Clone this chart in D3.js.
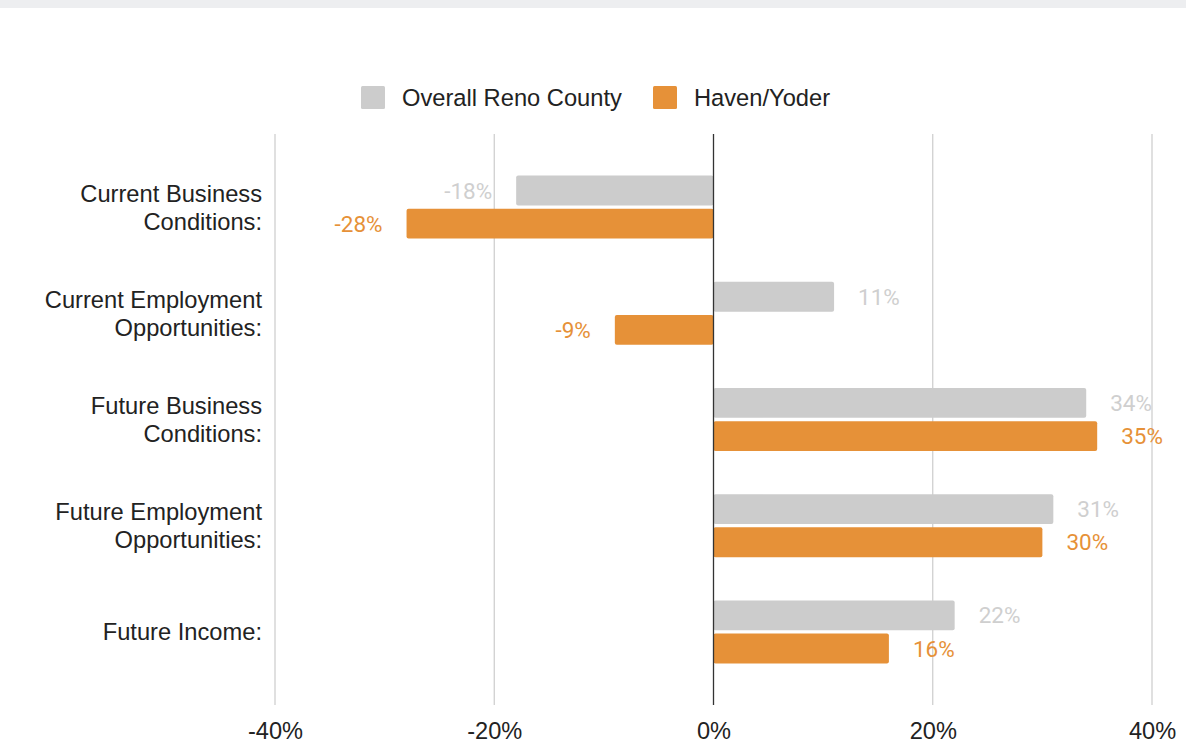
<!DOCTYPE html>
<html>
<head>
<meta charset="utf-8">
<script src="https://cdn.jsdelivr.net/npm/d3@7/dist/d3.min.js"></script>
<style>
  html, body { margin: 0; padding: 0; background: #ffffff; }
  svg { display: block; }
</style>
</head>
<body>
<script>
// Survey index by category: Reno County overall vs. Haven/Yoder
const categories = [
  ["Current Business", "Conditions:"],
  ["Current Employment", "Opportunities:"],
  ["Future Business", "Conditions:"],
  ["Future Employment", "Opportunities:"],
  ["Future Income:"]
];
const seriesNames = ["Overall Reno County", "Haven/Yoder"];
const renoValues = [-18, 11, 34, 31, 22];
const havenValues = [-28, -9, 35, 30, 16];
const tickValues = [-40, -20, 0, 20, 40];
const colors = ["#cccccc", "#e69138"];
const labelColors = ["#cfcfcf", "#e69138"];

const W = 1186, H = 752;
const textFont = "Arial, 'Liberation Sans', sans-serif";
const svg = d3.select("body").append("svg").attr("width", W).attr("height", H);

// top strip
svg.append("rect").attr("x", 0).attr("y", 0).attr("width", W).attr("height", 8).attr("fill", "#edeef0");

const x = d3.scaleLinear().domain([-40, 40]).range([275, 1152]);
const y = d3.scaleBand().domain(d3.range(categories.length)).range([154, 685]);
const sub = d3.scaleBand().domain([0, 1]).range([-31.5, 31.5]).paddingInner(0.1);

const gridTop = 134, gridBottom = 705;

// vertical gridlines
svg.append("g").selectAll("line").data(tickValues.filter(t => t !== 0)).join("line")
  .attr("x1", d => x(d)).attr("x2", d => x(d))
  .attr("y1", gridTop).attr("y2", gridBottom)
  .attr("stroke", "#cccccc").attr("stroke-width", 1.2);

// bottom axis labels
const axis = d3.axisBottom(x).tickValues(tickValues).tickFormat(d => d + "%").tickSize(0).tickPadding(0);
const axG = svg.append("g").attr("transform", `translate(0, ${gridBottom})`).call(axis);
axG.select(".domain").remove();
axG.selectAll("text")
  .attr("y", 34).attr("dy", 0)
  .attr("font-family", textFont)
  .attr("font-size", 23.6).attr("fill", "#222222");

// bars
const rows = categories.map((c, i) => ({ i, vals: [renoValues[i], havenValues[i]] }));
const groups = svg.append("g").selectAll("g").data(rows).join("g")
  .attr("transform", d => `translate(0, ${y(d.i) + y.bandwidth() / 2})`);

groups.selectAll("rect").data(d => d.vals.map((v, s) => ({ v, s }))).join("rect")
  .attr("x", d => x(Math.min(0, d.v)))
  .attr("width", d => Math.abs(x(d.v) - x(0)))
  .attr("y", d => sub(d.s))
  .attr("height", sub.bandwidth())
  .attr("rx", 2).attr("ry", 2)
  .attr("fill", d => colors[d.s]);

groups.selectAll("text.val").data(d => d.vals.map((v, s) => ({ v, s }))).join("text")
  .attr("class", "val")
  .attr("x", d => d.v >= 0 ? x(d.v) + 24 : x(d.v) - 24)
  .attr("y", d => sub(d.s) + sub.bandwidth() / 2)
  .attr("dy", "0.36em")
  .attr("text-anchor", d => d.v >= 0 ? "start" : "end")
  .attr("font-family", "Roboto, sans-serif")
  .attr("font-size", 22.5)
  .attr("fill", d => labelColors[d.s])
  .text(d => d.v + "%");

// zero baseline
svg.append("line")
  .attr("x1", x(0)).attr("x2", x(0)).attr("y1", gridTop).attr("y2", gridBottom)
  .attr("stroke", "#333333").attr("stroke-width", 1.3);

// category labels
const catG = svg.append("g").selectAll("text").data(categories).join("text")
  .attr("text-anchor", "end")
  .attr("font-family", textFont)
  .attr("font-size", 23.7).attr("fill", "#222222");
catG.each(function (lines, i) {
  const c = y(i) + y.bandwidth() / 2;
  const lh = 28;
  const start = c - (lines.length - 1) * lh / 2;
  d3.select(this).selectAll("tspan").data(lines).join("tspan")
    .attr("x", 262)
    .attr("y", (d, k) => start + k * lh)
    .attr("dy", "0.36em")
    .text(d => d);
});

// legend
const legendItems = [{ name: seriesNames[0], x: 361 }, { name: seriesNames[1], x: 653 }];
const lg = svg.append("g").selectAll("g").data(legendItems).join("g")
  .attr("transform", d => `translate(${d.x}, 86)`);
lg.append("rect").attr("width", 24).attr("height", 23).attr("rx", 1.5)
  .attr("fill", (d, i) => colors[i]);
lg.append("text").attr("x", 41).attr("y", 11.5).attr("dy", "0.36em")
  .attr("font-family", textFont)
  .attr("font-size", 23.7).attr("fill", "#222222")
  .text(d => d.name);
</script>
</body>
</html>
